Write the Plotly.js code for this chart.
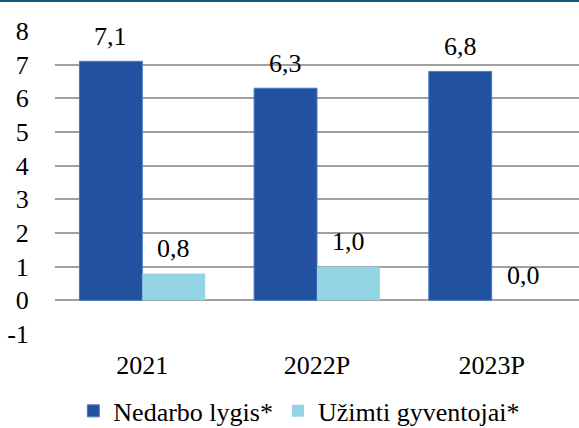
<!DOCTYPE html>
<html><head><meta charset="utf-8">
<script src="https://cdn.plot.ly/plotly-3.0.1.min.js"></script>
<style>html,body{margin:0;padding:0;background:#fff;}#top{height:2px;background:#17597a;width:579px;}#chart{width:579px;height:426px;}</style>
</head><body><div id="top"></div><div id="chart"></div>
<script>
const categories = ['2021', '2022P', '2023P'];
const nedarbo = [7.1, 6.3, 6.8];
const uzimti = [0.8, 1.0, 0.0];
const seriesNames = ['Nedarbo lygis*', 'Užimti gyventojai*'];
const yTicks = [-1, 0, 1, 2, 3, 4, 5, 6, 7, 8];

const F = (s) => ({family: 'Liberation Serif, Times New Roman, serif', size: s || 26, color: '#000000'});
const fmt = v => v.toFixed(1).replace('.', ',');
const data = [
  {type: 'bar', x: categories, y: nedarbo, name: seriesNames[0],
   marker: {color: '#21519f', line: {color: '#4a78c0', width: 1}}, hoverinfo: 'skip'},
  {type: 'bar', x: categories, y: uzimti, name: seriesNames[1],
   marker: {color: '#93d5e5', line: {width: 0}}, hoverinfo: 'skip'}
];
// value labels placed above each bar (category index on the category axis, series offset within group)
const annotations = [];
[nedarbo, uzimti].forEach((vals, si) => {
  vals.forEach((v, ci) => {
    annotations.push({x: ci, y: v, xref: 'x', yref: 'y', text: fmt(v),
      showarrow: false, xanchor: 'center', yanchor: 'middle',
      xshift: si === 0 ? -31.4 : 31.4, yshift: 25, font: F()});
  });
});
const layout = {
  width: 579, height: 426,
  margin: {l: 55, r: 0, t: 29, b: 94},
  barmode: 'group', bargap: 0.28, bargroupgap: 0,
  paper_bgcolor: '#ffffff', plot_bgcolor: '#ffffff',
  font: F(),
  showlegend: true,
  annotations: annotations,
  legend: {orientation: 'h', x: 0.035, xanchor: 'left', xref: 'paper', y: 0.04, yref: 'container', yanchor: 'middle',
    font: F(), traceorder: 'normal', tracegroupgap: 0},
  xaxis: {type: 'category', categoryorder: 'array', categoryarray: categories, range: [-0.5, 2.5],
    showgrid: false, zeroline: false, showline: false, ticks: 'outside', ticklen: 8, tickcolor: '#ffffff',
    tickfont: F(), automargin: false},
  yaxis: {range: [-1, 8], tickmode: 'array', tickvals: yTicks, ticktext: yTicks.map(String), showgrid: true,
    gridcolor: '#a0a0a0', gridwidth: 2, zeroline: true, zerolinecolor: '#a0a0a0', zerolinewidth: 2,
    showline: false, ticks: 'outside', ticklen: 20, tickcolor: '#ffffff', tickfont: F(), automargin: false}
};
Plotly.newPlot('chart', data, layout, {staticPlot: true, displayModeBar: false});
</script></body></html>
